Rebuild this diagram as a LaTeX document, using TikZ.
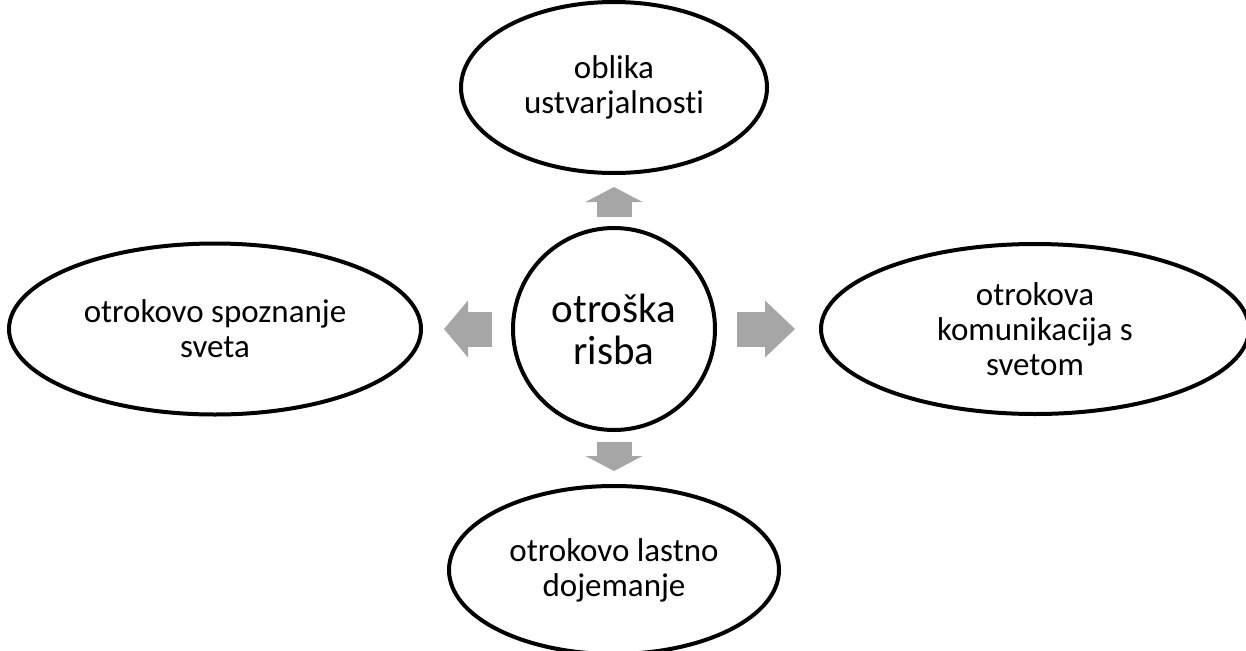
\documentclass[tikz,border=0pt]{standalone}
\usepackage{fontspec}
\setmainfont{Carlito}[Ligatures=NoCommon]
\usetikzlibrary{arrows.meta,shapes.geometric,positioning}
\definecolor{arrowgray}{RGB}{166,166,166}
\tikzset{bubble/.style={draw, ellipse, line width=2pt, align=center,
		font=\fontsize{16.5}{17.5}\selectfont, inner sep=0pt},
	hub/.style={draw, circle, line width=2pt, minimum size=101pt, align=center,
		font=\fontsize{20.5}{21}\selectfont, inner sep=0pt},
	arrow/.style={draw=arrowgray, line width=17.5pt,
		-{Triangle[length=#1, width=28.5pt, line width=0pt]}}}

\begin{document}
\begin{tikzpicture}
		\useasboundingbox (0,0) rectangle (623pt,325pt);
		\node [hub] (risba) at (307pt,160.5pt) {otroška\\risba};
		\node [bubble, minimum width=153pt, minimum height=85.5pt, above=25.5pt of risba] (oblika) {oblika\\ustvarjalnosti};
		\node [bubble, minimum width=206pt, minimum height=85.5pt, left=44pt of risba] (spoznanje) {otrokovo spoznanje\\sveta};
		\node [bubble, minimum width=214pt, minimum height=85pt, right=51pt of risba] (komunikacija) {otrokova\\komunikacija s\\svetom};
		\node [bubble, minimum width=165pt, minimum height=84pt, below=26pt of risba] (dojemanje) {otrokovo lastno\\dojemanje};
		
		\draw [arrow=7.5pt, shorten <=4.5pt, shorten >=6pt] (risba) -- (oblika);
		\draw [arrow=12pt, shorten <=9.5pt, shorten >=10.5pt] (risba) -- (spoznanje);
		\draw [arrow=15pt, shorten <=10pt, shorten >=12pt] (risba) -- (komunikacija);
		\draw [arrow=7.5pt, shorten <=5pt, shorten >=6.5pt] (risba) -- (dojemanje);
	\end{tikzpicture}
\end{document}
